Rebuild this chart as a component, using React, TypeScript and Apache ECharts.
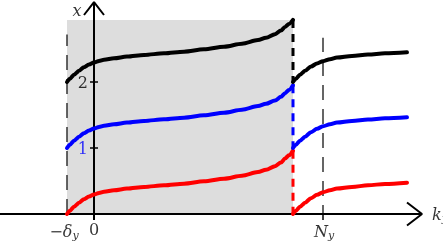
import React, { useEffect, useRef } from 'react';
import * as echarts from 'echarts';

// k positions (1 unit = 100 px horizontally), values in x-units
const kLeft = [-0.27, -0.24, -0.2, -0.15, -0.1, -0.05, 0, 0.05, 0.1, 0.2, 0.33, 0.5, 0.7, 0.9, 1.1, 1.3, 1.48, 1.64, 1.72, 1.81, 1.87, 1.91, 1.95, 1.99];
const redLeft = [0, 0.05, 0.11, 0.17, 0.225, 0.265, 0.295, 0.32, 0.337, 0.36, 0.385, 0.41, 0.435, 0.46, 0.495, 0.535, 0.58, 0.635, 0.67, 0.725, 0.78, 0.84, 0.89, 0.96];
const blueLeft = [1, 1.05, 1.11, 1.17, 1.225, 1.265, 1.295, 1.32, 1.337, 1.36, 1.385, 1.41, 1.435, 1.46, 1.495, 1.535, 1.58, 1.635, 1.67, 1.72, 1.775, 1.83, 1.88, 1.95];
const blackLeft = [2, 2.05, 2.11, 2.17, 2.225, 2.265, 2.295, 2.32, 2.337, 2.36, 2.385, 2.41, 2.435, 2.46, 2.495, 2.535, 2.58, 2.635, 2.67, 2.725, 2.78, 2.835, 2.88, 2.94];

const kRight = [1.99, 2.02, 2.06, 2.11, 2.17, 2.23, 2.29, 2.36, 2.43, 2.58, 2.74, 2.91, 3.13];
const redRight = [0, 0.05, 0.11, 0.17, 0.24, 0.29, 0.33, 0.36, 0.385, 0.41, 0.435, 0.455, 0.475];
const blueRight = [1, 1.05, 1.11, 1.17, 1.24, 1.29, 1.33, 1.36, 1.385, 1.41, 1.43, 1.45, 1.465];
const blackRight = [2, 2.05, 2.11, 2.17, 2.235, 2.28, 2.315, 2.345, 2.37, 2.395, 2.415, 2.435, 2.45];

const deltaY = -0.27;
const kEdge = 1.99;
const NY = 2.29;
const shadeTop = 2.94;
const xAxisStart = -0.94;
const xAxisEnd = 3.28;
const yAxisTop = 3.21;
const yAxisBottom = -0.09;
const yTicks = [1, 2];

const zip = (ks: number[], vs: number[]) => ks.map((k, i) => [k, vs[i]]);

export default function App() {
  const ref = useRef<HTMLDivElement>(null);
  useEffect(() => {
    document.body.style.margin = '0';
    const chart = echarts.init(ref.current!, null, { renderer: 'svg' });
    const font = "'DejaVu Serif', 'Liberation Serif', serif";
    const curve = (data: number[][], color: string) => ({
      type: 'line', data, smooth: 0.3, smoothMonotone: 'x', symbol: 'none', silent: true, clip: false,
      lineStyle: { color, width: 4, cap: 'round', join: 'round' }, z: 5,
    });
    const seg = (data: number[][], color: string, width: number, type: any, z = 3) => ({
      type: 'line', data, symbol: 'none', silent: true, clip: false,
      lineStyle: { color, width, type, cap: 'butt' }, z,
    });
    const rich = {
      i: { fontFamily: font, fontStyle: 'italic', fontSize: 16, color: '#000' },
      m: { fontFamily: font, fontSize: 16, color: '#000' },
      b: { fontFamily: font, fontSize: 16, color: '#0000ff' },
      s: { fontFamily: font, fontStyle: 'italic', fontSize: 11, color: '#000', padding: [9, 0, 0, 0] },
    };
    const labels = [
      { value: [-0.17, 3.09], label: { formatter: '{i|x}', align: 'center', verticalAlign: 'middle' } },
      { value: [-0.06, 1.985], label: { formatter: '{m|2}', align: 'right', verticalAlign: 'middle' } },
      { value: [-0.06, 1.0], label: { formatter: '{b|1}', align: 'right', verticalAlign: 'middle' } },
      { value: [0, -0.23], label: { formatter: '{m|0}', align: 'center', verticalAlign: 'middle' } },
      { value: [-0.3, -0.26], label: { formatter: '{m|−}{i|δ}{s|y}', align: 'center', verticalAlign: 'middle' } },
      { value: [2.3, -0.26], label: { formatter: '{i|N}{s|y}', align: 'center', verticalAlign: 'middle' } },
      { value: [3.38, 0.0], label: { formatter: '{i|k}{s|y}', align: 'left', verticalAlign: 'middle' } },
    ];
    const series: any[] = [
      {
        type: 'line', data: [], silent: true,
        markArea: {
          silent: true,
          itemStyle: { color: '#dddddd' },
          data: [[{ coord: [deltaY, 0] }, { coord: [kEdge, shadeTop] }]],
        },
        z: 1,
      },
      seg([[deltaY, 0], [deltaY, 2.72]], '#333', 1.5, [15, 9]),
      seg([[NY, yAxisBottom], [NY, 2.67]], '#333', 1.5, [15, 9]),
      seg([[NY, yAxisBottom], [NY, 0]], '#333', 1.5, 'solid'),
      seg([[xAxisStart, 0], [xAxisEnd, 0]], '#000', 2, 'solid', 4),
      seg([[3.13, 0.175], [xAxisEnd, 0], [3.13, -0.175]], '#000', 2, 'solid', 4),
      seg([[0, yAxisBottom], [0, yAxisTop]], '#000', 2, 'solid', 4),
      seg([[-0.1, 3.015], [0, yAxisTop], [0.1, 3.015]], '#000', 2, 'solid', 4),
      ...yTicks.map((t) => seg([[-0.04, t], [0.04, t]], '#000', 1.5, 'solid', 4)),
      seg([[kEdge, redLeft[redLeft.length - 1]], [kEdge, redRight[0]]], '#ff0000', 3, [8, 6], 4),
      seg([[kEdge, blueLeft[blueLeft.length - 1]], [kEdge, blueRight[0]]], '#0000ff', 3, [8, 6], 4),
      seg([[kEdge, blackLeft[blackLeft.length - 1]], [kEdge, blackRight[0]]], '#000000', 3, [8, 6], 4),
      curve(zip(kLeft, redLeft), '#ff0000'),
      curve(zip(kLeft, blueLeft), '#0000ff'),
      curve(zip(kLeft, blackLeft), '#000000'),
      curve(zip(kRight, redRight), '#ff0000'),
      curve(zip(kRight, blueRight), '#0000ff'),
      curve(zip(kRight, blackRight), '#000000'),
      {
        type: 'scatter', data: labels, symbolSize: 0, silent: true, z: 6,
        label: { show: true, position: 'inside', rich, fontFamily: font, fontSize: 16 },
      },
    ];
    chart.setOption({
      animation: false,
      grid: { left: 0, right: 0, top: 0, bottom: 0 },
      xAxis: { type: 'value', min: -0.94, max: 3.49, show: false },
      yAxis: { type: 'value', min: -28 / 66, max: 214 / 66, show: false },
      series,
    });
    return () => chart.dispose();
  }, []);
  return <div ref={ref} style={{ position: 'fixed', left: 0, top: 0, width: 443, height: 242 }} />;
}
